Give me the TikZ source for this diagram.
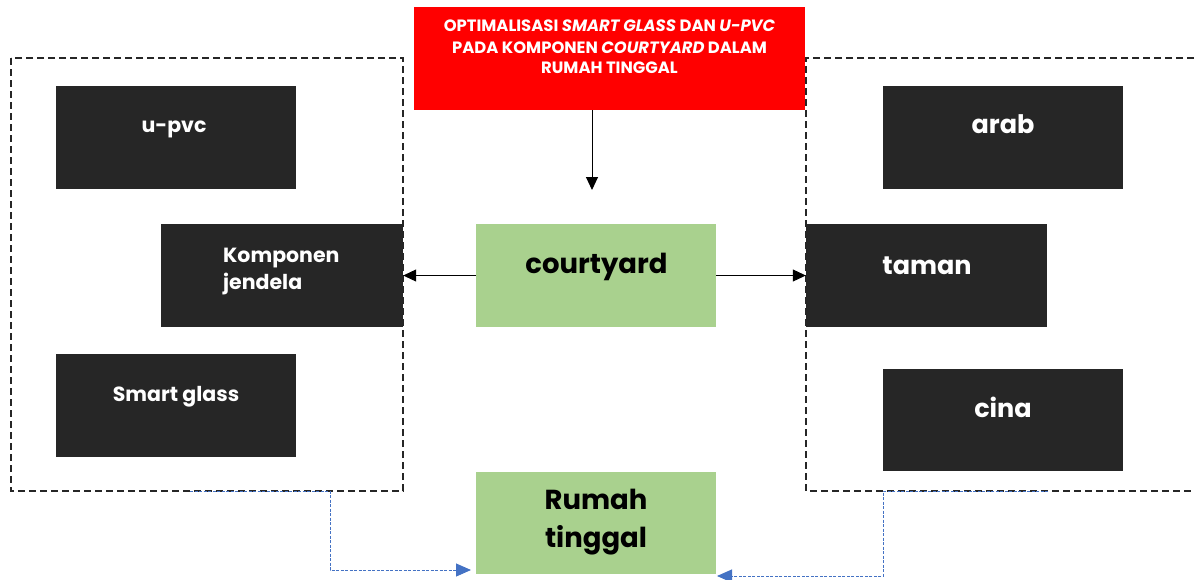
\documentclass[tikz,border=0pt]{standalone}
\usepackage{fontspec}
\setmainfont{Poppins}[BoldFont={* Bold},BoldItalicFont={* Bold Italic}]
\usetikzlibrary{arrows.meta}
\definecolor{boxblack}{HTML}{262626}
\definecolor{boxgreen}{HTML}{A9D18E}
\definecolor{dashgray}{HTML}{262626}
\definecolor{linkblue}{HTML}{4472C4}
\tikzset{
  blackbox/.style={draw=none,fill=boxblack,minimum width=240pt,minimum height=103pt,inner sep=0pt},
  greenbox/.style={draw=none,fill=boxgreen,minimum width=240pt,minimum height=103pt,inner sep=0pt},
  wtxt/.style={text=white,inner sep=0pt,anchor=base},
  btxt/.style={text=black,inner sep=0pt,anchor=base},
  smallfont/.style={font=\bfseries\fontsize{20.5}{24}\selectfont},
  midfont/.style={font=\bfseries\fontsize{25.5}{30}\selectfont},
  bigfont/.style={font=\bfseries\fontsize{27.5}{32}\selectfont},
  titlefont/.style={font=\bfseries\fontsize{16.4}{20}\selectfont},
  groupbox/.style={draw=dashgray,line width=2.5pt,dash pattern=on 7pt off 4pt},
  solidarrow/.style={draw=black,line width=1pt,-{Triangle[length=13pt,width=12pt]}},
  bluelink/.style={draw=linkblue,line width=1pt,dash pattern=on 3pt off 1.5pt,-{Triangle[length=15pt,width=13pt]}},
}
\begin{document}
\begin{tikzpicture}[x=1pt,y=-1pt]
\useasboundingbox (0,0) rectangle (1195,579);
% group boxes
\draw[groupbox] (11,58) rectangle (403,491);
\draw[groupbox] (1205,58) -- (806,58) -- (806,491) -- (1205,491);
% title
\node[fill=red,minimum width=391pt,minimum height=103pt,inner sep=0pt] (title) at (609.5,58.5) {};
\node[wtxt,titlefont] (title1) at (609.5,31.5) {OPTIMALISASI \textit{SMART GLASS} DAN \textit{U-PVC}};
\node[wtxt,titlefont] (title2) at (609.5,53) {PADA KOMPONEN \textit{COURTYARD} DALAM};
\node[wtxt,titlefont] (title3) at (609.5,73.5) {RUMAH TINGGAL};
% left black boxes
\node[blackbox] (upvc) at (176,137.5) {};
\node[wtxt,smallfont] (upvctxt) at (174,132) {u-pvc};
\node[blackbox,minimum width=242pt] (jendela) at (282,275.5) {};
\node[wtxt,smallfont,anchor=base west] (jendelatxt1) at (223,262) {Komponen};
\node[wtxt,smallfont,anchor=base west] (jendelatxt2) at (223,289) {jendela};
\node[blackbox] (smart) at (176,405.5) {};
\node[wtxt,smallfont] (smarttxt) at (176,401) {Smart glass};
% right black boxes
\node[blackbox] (arab) at (1003,137.5) {};
\node[wtxt,midfont] (arabtxt) at (1003,133) {arab};
\node[blackbox,minimum width=241pt] (taman) at (926.5,275.5) {};
\node[wtxt,midfont] (tamantxt) at (927,274) {taman};
\node[blackbox,minimum height=102pt] (cina) at (1003,420) {};
\node[wtxt,midfont] (cinatxt) at (1003,417) {cina};
% green boxes
\node[greenbox] (court) at (596,275.5) {};
\node[btxt,bigfont] (courttxt) at (596.5,273) {courtyard};
\node[greenbox,minimum height=102pt] (rumah) at (596,523) {};
\node[btxt,bigfont] (rumahtxt1) at (596,509) {Rumah};
\node[btxt,bigfont] (rumahtxt2) at (596,547) {tinggal};
% arrows
\coordinate (downstart) at (592,110);
\coordinate (downend) at (592,190);
\draw[solidarrow] (downstart) -- (downend);
\draw[solidarrow] (court.west) -- (jendela.east);
\draw[solidarrow] (court.east) -- (taman.west);
% blue links
\coordinate (lstart) at (190,491);
\coordinate (lbend) at (330,491);
\coordinate (lcorner) at (330,570);
\coordinate (lend) at (471,570);
\coordinate (rstart) at (1048,491);
\coordinate (rbend) at (883,491);
\coordinate (rcorner) at (883,576);
\coordinate (rend) at (717,576);
\draw[bluelink] (lstart) -- (lbend) -- (lcorner) -- (lend);
\draw[bluelink] (rstart) -- (rbend) -- (rcorner) -- (rend);
\end{tikzpicture}
\end{document}
